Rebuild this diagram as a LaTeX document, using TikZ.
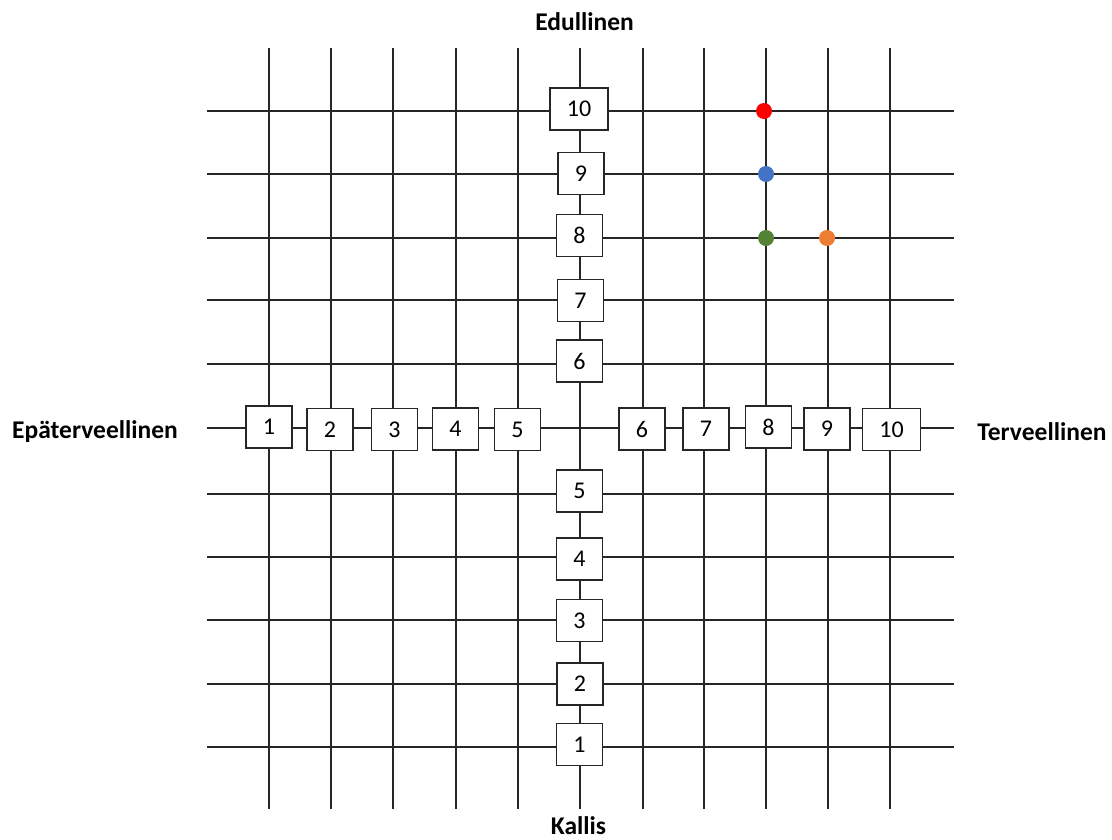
\documentclass[tikz,border=0pt]{standalone}
\usepackage{fontspec}
\setmainfont{Carlito}
\begin{document}
\begin{tikzpicture}[x=1pt,y=-1pt,
  gridline/.style={line width=1.4pt,black!85},
  numbox/.style={draw=black!85,line width=1.4pt,fill=white,minimum width=46pt,minimum height=42pt,inner sep=0pt,font=\fontsize{24}{28}\selectfont},
  widebox/.style={numbox,minimum width=58pt},
  axislabel/.style={font=\fontsize{25.5}{30}\selectfont\bfseries,inner sep=0pt},
  dot/.style={circle,inner sep=0pt,minimum size=16pt}]
\useasboundingbox (0,0) rectangle (1112,839);
% grid
\foreach \x in {269,331,393,456,518,580,643,704,766,828,890}
  \draw[gridline] (\x,48) -- (\x,809);
\foreach \y in {111,174,238,300,364,428,494,557,620,684,747}
  \draw[gridline] (207,\y) -- (954,\y);
% vertical axis boxes
\node[widebox] (v10) at (579,109) {10};
\node[numbox] (v9) at (581,173.5) {9};
\node[numbox] (v8) at (579.5,235.5) {8};
\node[numbox] (v7) at (580.5,300.5) {7};
\node[numbox] (v6) at (579.5,361) {6};
\node[numbox] (v5) at (579.5,491) {5};
\node[numbox] (v4) at (579.5,559) {4};
\node[numbox] (v3) at (579.5,620.5) {3};
\node[numbox] (v2) at (580,684) {2};
\node[numbox] (v1) at (579.5,744.5) {1};
% horizontal axis boxes
\node[numbox] (h1) at (269,427) {1};
\node[numbox] (h2) at (330,429.5) {2};
\node[numbox] (h3) at (394.5,429.5) {3};
\node[numbox] (h4) at (455.5,429) {4};
\node[numbox] (h5) at (517.5,429.5) {5};
\node[numbox] (h6) at (642,429) {6};
\node[numbox] (h7) at (706,429) {7};
\node[numbox] (h8) at (768.5,427) {8};
\node[numbox] (h9) at (827,429) {9};
\node[widebox] (h10) at (891.5,429.5) {10};
% labels
\node[axislabel] (top) at (584.5,22) {Edullinen};
\node[axislabel,anchor=base] (bottom) at (578.5,834) {Kallis};
\node[axislabel] (left) at (95,432) {Epäterveellinen};
\node[axislabel] (right) at (1042,432) {Terveellinen};
% dots
\node[dot,fill={rgb,255:red,255;green,0;blue,0}] (dr) at (764,111) {};
\node[dot,fill={rgb,255:red,68;green,114;blue,196}] (db) at (766,174) {};
\node[dot,fill={rgb,255:red,84;green,130;blue,53}] (dg) at (766,238) {};
\node[dot,fill={rgb,255:red,237;green,125;blue,49}] (do) at (827,238) {};
\end{tikzpicture}
\end{document}
